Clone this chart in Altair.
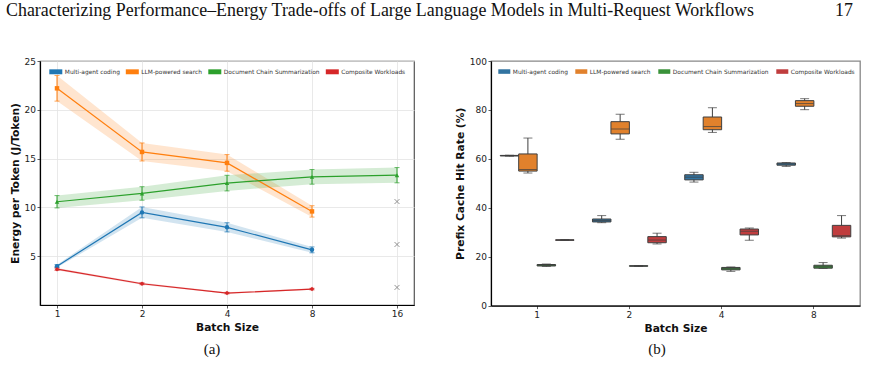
import altair as alt
import pandas as pd

# ---------------- data ----------------
series = ["Multi-agent coding", "LLM-powered search",
          "Document Chain Summarization", "Composite Workloads"]

# panel (a): energy per token
batch_a = ["1", "2", "4", "8", "16"]
energy_multi = [3.98, 9.49, 7.96, 5.65]
energy_multi_sd = [0.15, 0.56, 0.47, 0.30]
energy_search = [22.2, 15.68, 14.56, 9.59]
energy_search_sd = [1.31, 0.92, 0.85, 0.58]
energy_doc = [10.58, 11.43, 12.49, 13.13, 13.30]
energy_doc_sd = [0.63, 0.69, 0.80, 0.75, 0.78]
energy_comp = [3.67, 2.18, 1.22, 1.63]
energy_comp_sd = [0.12, 0.10, 0.08, 0.08]
oom_batch = ["16", "16", "16"]
oom_y = [10.6, 6.2, 1.8]

# panel (b): prefix cache hit rate box stats [min, q1, median, q3, max]
batch_b = ["1", "2", "4", "8"]
hit_multi = [[61.1, 61.2, 61.3, 61.4, 61.5],
             [33.9, 34.2, 34.8, 35.4, 36.8],
             [50.5, 51.4, 52.5, 53.5, 54.5],
             [56.9, 57.4, 57.9, 58.3, 58.5]]
hit_search = [[54.2, 55.0, 55.6, 62.0, 68.5],
              [68.0, 70.2, 72.2, 75.2, 78.2],
              [70.8, 71.9, 73.2, 77.1, 80.9],
              [80.1, 81.5, 82.6, 83.8, 84.6]]
hit_doc = [[16.0, 16.2, 16.5, 16.8, 17.0],
           [16.0, 16.1, 16.2, 16.3, 16.4],
           [14.0, 14.6, 15.1, 15.6, 15.8],
           [15.2, 15.3, 15.9, 16.5, 17.6]]
hit_comp = [[26.7, 26.7, 26.8, 26.9, 27.0],
            [25.2, 25.7, 26.8, 28.2, 29.6],
            [26.7, 28.9, 30.4, 31.3, 31.7],
            [27.6, 28.1, 28.6, 32.8, 36.8]]

header_text = "Characterizing Performance–Energy Trade-offs of Large Language Models in Multi-Request Workflows"
page_number = "17"

colors_a = ["#1f77b4", "#ff7f0e", "#2ca02c", "#d62728"]
colors_b = ["#3274a1", "#e1812c", "#3a923a", "#c03d3e"]
shapes_a = ["circle", "square", "triangle-up", "diamond"]

# ---------------- tables ----------------
rows_a = []
for name, means, sds in [(series[0], energy_multi, energy_multi_sd),
                         (series[1], energy_search, energy_search_sd),
                         (series[2], energy_doc, energy_doc_sd),
                         (series[3], energy_comp, energy_comp_sd)]:
    for b, m, s in zip(batch_a, means, sds):
        rows_a.append({"batch": b, "series": name, "mean": m, "lo": m - s, "hi": m + s})
df_a = pd.DataFrame(rows_a)
df_oom = pd.DataFrame({"batch": oom_batch, "mean": oom_y})

rows_b = []
for name, stats in [(series[0], hit_multi), (series[1], hit_search),
                    (series[2], hit_doc), (series[3], hit_comp)]:
    for b, st in zip(batch_b, stats):
        rows_b.append({"batch": b, "series": name, "min": st[0], "q1": st[1],
                       "med": st[2], "q3": st[3], "max": st[4]})
df_b = pd.DataFrame(rows_b)

FONT = "DejaVu Sans"
SERIF = "Liberation Serif"
RECT = "M-1,-0.38H1V0.38H-1Z"

# ---------------- panel (a) ----------------
W_A, H_A = 374, 244
x_a = alt.X("batch:O", sort=batch_a, title="Batch Size",
            scale=alt.Scale(type="point", padding=0.2),
            axis=alt.Axis(labelAngle=0, grid=True))
y_scale_a = alt.Scale(domain=[0, 25], nice=False, zero=False)
y_axis_a = alt.Axis(values=[5, 10, 15, 20, 25], grid=True)
Y_TITLE_A = "Energy per Token (J/Token)"

legend_a = alt.Legend(orient="none", legendX=9.3, legendY=4, direction="horizontal",
                      title=None, symbolType=RECT, symbolSize=169, symbolOpacity=1,
                      symbolStrokeWidth=0, labelFontSize=5.9, labelFont=FONT,
                      labelColor="#333", labelOffset=2.5, columnPadding=5.5,
                      padding=0)
color_a = alt.Color("series:N", scale=alt.Scale(domain=series, range=colors_a),
                    legend=legend_a)
color_a_nl = alt.Color("series:N", scale=alt.Scale(domain=series, range=colors_a),
                       legend=None)

base_a = alt.Chart(df_a)
band = base_a.mark_area(opacity=0.2).encode(
    x=x_a, y=alt.Y("lo:Q", scale=y_scale_a, axis=y_axis_a, title=Y_TITLE_A),
    y2="hi:Q", color=color_a)
line = base_a.mark_line(strokeWidth=1.2).encode(
    x=x_a, y=alt.Y("mean:Q", scale=y_scale_a, axis=y_axis_a, title=Y_TITLE_A),
    color=color_a_nl)
err = base_a.mark_rule(strokeWidth=1).encode(
    x=x_a, y=alt.Y("lo:Q", scale=y_scale_a, axis=y_axis_a, title=Y_TITLE_A),
    y2="hi:Q", color=color_a_nl)
cap_lo = base_a.mark_tick(thickness=1, size=5).encode(
    x=x_a, y=alt.Y("lo:Q", scale=y_scale_a, axis=y_axis_a, title=Y_TITLE_A),
    color=color_a_nl)
cap_hi = base_a.mark_tick(thickness=1, size=5).encode(
    x=x_a, y=alt.Y("hi:Q", scale=y_scale_a, axis=y_axis_a, title=Y_TITLE_A),
    color=color_a_nl)
pts = base_a.mark_point(filled=True, size=20, opacity=1).encode(
    x=x_a, y=alt.Y("mean:Q", scale=y_scale_a, axis=y_axis_a, title=Y_TITLE_A),
    color=color_a_nl,
    shape=alt.Shape("series:N", scale=alt.Scale(domain=series, range=shapes_a), legend=None))
oom = alt.Chart(df_oom).mark_point(shape="M-1,-1L1,1M-1,1L1,-1", filled=False,
                                   stroke="#666", strokeWidth=1, size=24).encode(
    x=x_a, y=alt.Y("mean:Q", scale=y_scale_a, axis=y_axis_a, title=Y_TITLE_A))

header = alt.Chart(pd.DataFrame({"t": [header_text]})).mark_text(
    font=SERIF, fontSize=17.9, align="left", baseline="alphabetic", color="#111").encode(
    x=alt.value(-34), y=alt.value(-45), text="t:N")
cap_a = alt.Chart(pd.DataFrame({"t": ["(a)"]})).mark_text(
    font=SERIF, fontSize=15, align="center", baseline="middle", color="#111").encode(
    x=alt.value(172), y=alt.value(288), text="t:N")

panel_a = alt.layer(band, err, cap_lo, cap_hi, line, pts, oom, header, cap_a).properties(
    width=W_A, height=H_A, view=alt.ViewBackground(stroke="#555", strokeWidth=1.2))

# ---------------- panel (b) ----------------
W_B, H_B = 369, 244.6
x_b = alt.X("batch:N", sort=batch_b, title="Batch Size",
            scale=alt.Scale(paddingInner=0.2, paddingOuter=0.1),
            axis=alt.Axis(labelAngle=0, grid=False))
xo_b = alt.XOffset("series:N", sort=series, scale=alt.Scale(paddingInner=0, paddingOuter=0))
y_scale_b = alt.Scale(domain=[0, 100], nice=False)
y_axis_b = alt.Axis(values=[0, 20, 40, 60, 80, 100], grid=False)
Y_TITLE_B = "Prefix Cache Hit Rate (%)"
EDGE = "#3f3f3f"

legend_b = alt.Legend(orient="none", legendX=7.3, legendY=4.5, direction="horizontal",
                      title=None, symbolType=RECT, symbolSize=144, symbolOpacity=1,
                      symbolStrokeWidth=0, labelFontSize=5.9, labelFont=FONT,
                      labelColor="#333", labelOffset=2.5, columnPadding=7,
                      padding=0)

base_b = alt.Chart(df_b)
whisk = base_b.mark_rule(color=EDGE, strokeWidth=1).encode(
    x=x_b, xOffset=xo_b,
    y=alt.Y("min:Q", scale=y_scale_b, axis=y_axis_b, title=Y_TITLE_B), y2="max:Q")
box = base_b.mark_bar(stroke=EDGE, strokeWidth=1).encode(
    x=x_b, xOffset=xo_b,
    y=alt.Y("q1:Q", scale=y_scale_b, axis=y_axis_b, title=Y_TITLE_B), y2="q3:Q",
    color=alt.Color("series:N", scale=alt.Scale(domain=series, range=colors_b),
                    legend=legend_b))
med = base_b.mark_tick(color=EDGE, thickness=1, size=18).encode(
    x=x_b, xOffset=xo_b,
    y=alt.Y("med:Q", scale=y_scale_b, axis=y_axis_b, title=Y_TITLE_B))
wmin = base_b.mark_tick(color=EDGE, thickness=1, size=9).encode(
    x=x_b, xOffset=xo_b,
    y=alt.Y("min:Q", scale=y_scale_b, axis=y_axis_b, title=Y_TITLE_B))
wmax = base_b.mark_tick(color=EDGE, thickness=1, size=9).encode(
    x=x_b, xOffset=xo_b,
    y=alt.Y("max:Q", scale=y_scale_b, axis=y_axis_b, title=Y_TITLE_B))

pageno = alt.Chart(pd.DataFrame({"t": [page_number]})).mark_text(
    font=SERIF, fontSize=17.9, align="right", baseline="alphabetic", color="#111").encode(
    x=alt.value(362), y=alt.value(-45), text="t:N")
cap_b = alt.Chart(pd.DataFrame({"t": ["(b)"]})).mark_text(
    font=SERIF, fontSize=15, align="center", baseline="middle", color="#111").encode(
    x=alt.value(166), y=alt.value(288), text="t:N")

panel_b = alt.layer(whisk, box, med, wmin, wmax, pageno, cap_b).properties(
    width=W_B, height=H_B, view=alt.ViewBackground(stroke="#888", strokeWidth=1.3))

chart = alt.hconcat(panel_a, panel_b, spacing=77, bounds="flush").resolve_scale(
    color="independent").resolve_legend(color="independent").properties(
    padding={"left": 5, "top": 1, "right": 5, "bottom": 4}
).configure_axis(
    labelFont=FONT, labelFontSize=9, labelColor="#222", labelPadding=1.5,
    titleFont=FONT, titleFontSize=10.7, titleFontWeight="bold", titleColor="#111",
    tickSize=3, tickColor="#333", tickWidth=0.8,
    domainColor="#000", domainWidth=1.2,
    gridColor="#e3e3e3", gridWidth=0.8, titlePadding=4
).configure_view(stroke="#555")

chart.save("out.html", embed_options={"renderer": "svg", "actions": False})
